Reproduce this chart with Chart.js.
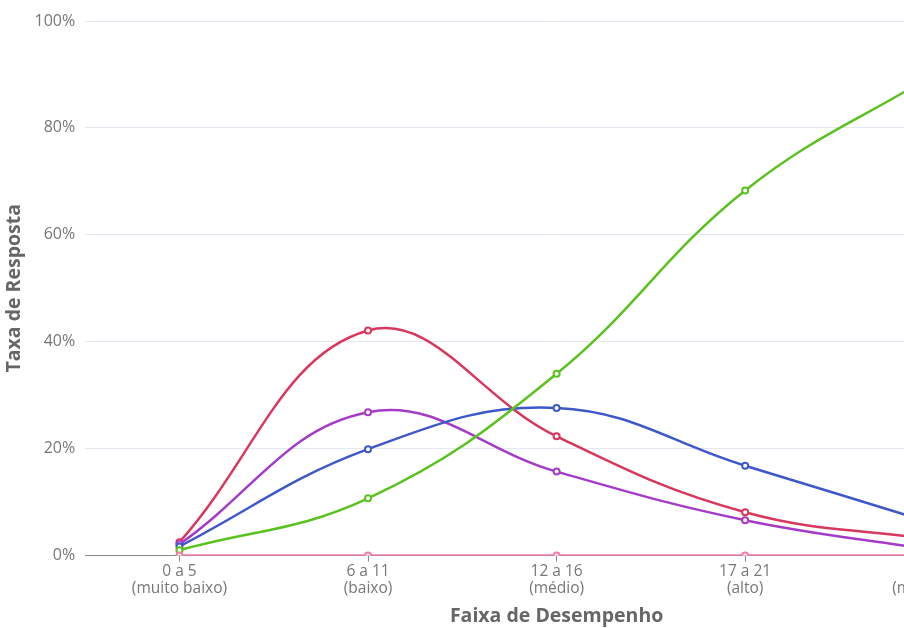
<!DOCTYPE html>
<html>
<head>
<meta charset="utf-8">
<script src="https://cdn.jsdelivr.net/npm/chart.js@4/dist/chart.umd.min.js"></script>
<style>
  body { margin: 0; overflow: hidden; background: #fff; }
  #wrap { width: 1040px; height: 628px; }
</style>
</head>
<body>
<div id="wrap"><canvas id="myChart" width="1040" height="628"></canvas></div>
<script>
var categories = [
  ["0 a 5", "(muito baixo)"],
  ["6 a 11", "(baixo)"],
  ["12 a 16", "(médio)"],
  ["17 a 21", "(alto)"],
  ["22 a 25", "(muito alto)"]
];
var redValues    = [2.5, 42.1, 22.3, 8.1, 3.0];
var purpleValues = [2.1, 26.8, 15.7, 6.6, 1.0];
var blueValues   = [1.7, 19.9, 27.6, 16.8, 6.0];
var greenValues  = [1.0, 10.7, 34.0, 68.3, 90.0];
var pinkValues   = [0, 0, 0, 0, 0];
var yTicks = [0, 20, 40, 60, 80, 100];

function serie(label, color, data) {
  return {
    label: label,
    data: data,
    borderColor: color,
    backgroundColor: '#fff',
    pointBorderColor: color,
    pointBackgroundColor: '#fff',
    pointRadius: 3,
    pointBorderWidth: 2,
    borderWidth: 2.5,
    tension: 0.4,
    fill: false
  };
}

Chart.defaults.font.family = "'Open Sans', 'Noto Sans', sans-serif";

var ctx = document.getElementById('myChart').getContext('2d');
var myLineChart = new Chart(ctx, {
  type: 'line',
  data: {
    labels: categories,
    datasets: [
      serie('Rosa', '#ff7aa2', pinkValues),
      serie('Verde', '#5ac21f', greenValues),
      serie('Azul', '#3e58cc', blueValues),
      serie('Roxo', '#a53cc9', purpleValues),
      serie('Vermelho', '#d9375d', redValues)
    ]
  },
  options: {
    responsive: false,
    animation: false,
    layout: { padding: { top: 21, right: 12, left: 5, bottom: 0 } },
    plugins: { legend: { display: false }, tooltip: { enabled: false } },
    scales: {
      x: {
        offset: true,
        grid: { offset: false, drawOnChartArea: false, drawTicks: true, tickLength: 6, color: '#888' },
        border: { display: true, color: '#888' },
        ticks: { color: '#777', font: { size: 15.5, lineHeight: 1.1 }, padding: 2, maxRotation: 0 },
        title: { display: true, text: 'Faixa de Desempenho', color: '#666', font: { size: 19.5, weight: 'bold' }, padding: { top: 5, bottom: 0 } }
      },
      y: {
        min: 0,
        max: 100,
        afterBuildTicks: function (axis) { axis.ticks = yTicks.map(function (v) { return { value: v }; }); },
        grid: { color: '#e3e8f3', drawTicks: false },
        border: { display: false },
        ticks: { color: '#777', font: { size: 16 }, padding: 10, callback: function (v) { return v + '%'; } },
        title: { display: true, text: 'Taxa de Resposta', color: '#666', font: { size: 19.5, weight: 'bold', lineHeight: 1.0 }, padding: { top: 0, bottom: 0 } }
      }
    }
  }
});
</script>
</body>
</html>
